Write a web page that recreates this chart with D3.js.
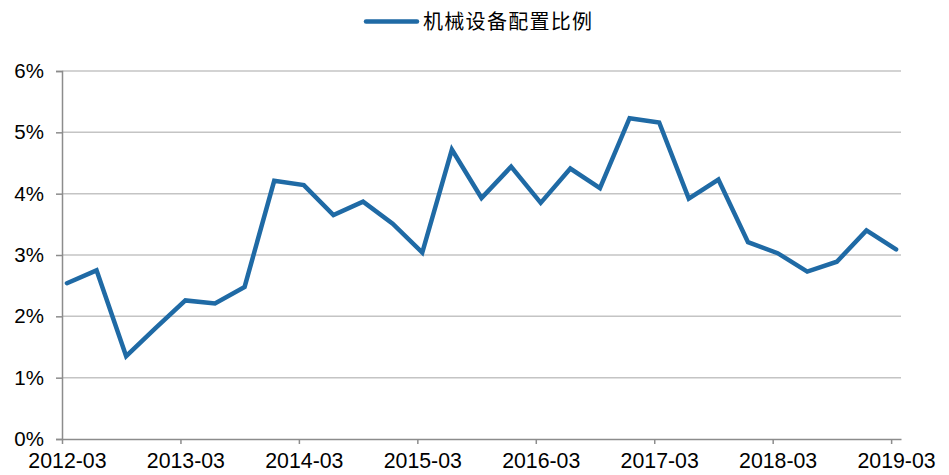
<!DOCTYPE html>
<html>
<head>
<meta charset="utf-8">
<script src="https://cdn.jsdelivr.net/npm/d3@7"></script>
<style>
  html, body { margin: 0; padding: 0; background: #fff; }
  svg { display: block; }
</style>
</head>
<body>
<svg id="chart" width="949" height="475"></svg>
<script>
// Quarterly dates and values
const seriesName = "机械设备配置比例";
const quarters = [
  "2012-03","2012-06","2012-09","2012-12",
  "2013-03","2013-06","2013-09","2013-12",
  "2014-03","2014-06","2014-09","2014-12",
  "2015-03","2015-06","2015-09","2015-12",
  "2016-03","2016-06","2016-09","2016-12",
  "2017-03","2017-06","2017-09","2017-12",
  "2018-03","2018-06","2018-09","2018-12",
  "2019-03"
];
const values = [
  2.54, 2.75, 1.35, 1.81,
  2.26, 2.21, 2.48, 4.21,
  4.14, 3.65, 3.87, 3.51,
  3.04, 4.72, 3.93, 4.44,
  3.85, 4.41, 4.09, 5.23,
  5.16, 3.92, 4.23, 3.21,
  3.03, 2.73, 2.89, 3.40,
  3.09
];
const xTickLabels = ["2012-03","2013-03","2014-03","2015-03","2016-03","2017-03","2018-03","2019-03"];
const yTicks = [0, 1, 2, 3, 4, 5, 6];

(function () {
const svg = d3.select("#chart");
const mLeft = 62, mRight = 901, mTop = 71, mBottom = 439;

function monthIndex(s) {
  const [yy, mm] = s.split("-").map(Number);
  return (yy - 2012) * 12 + (mm - 3);
}

const x = d3.scaleLinear().domain([0, 85]).range([mLeft, mRight]);
const y = d3.scaleLinear().domain([0, 6]).range([mBottom, mTop]);

// gridlines
svg.append("g")
  .selectAll("line")
  .data(yTicks.filter(d => d > 0))
  .join("line")
  .attr("x1", mLeft).attr("x2", mRight)
  .attr("y1", d => y(d)).attr("y2", d => y(d))
  .attr("stroke", "#c4c4c4")
  .attr("stroke-width", 1.5);

// y axis
const yAxis = d3.axisLeft(y).tickValues(yTicks).tickFormat(d => d + "%").tickSize(6).tickPadding(12);
const gy = svg.append("g").attr("transform", `translate(${mLeft},0)`).call(yAxis);
gy.select(".domain").attr("stroke", "#8c8c8c").attr("stroke-width", 1.5);
gy.selectAll(".tick line").attr("stroke", "#8c8c8c").attr("stroke-width", 1.5);
gy.selectAll(".tick text")
  .attr("font-family", "'Liberation Sans', Arial, sans-serif")
  .attr("font-size", 20.5)
  .attr("fill", "#000");

// x axis
const xAxis = d3.axisBottom(x)
  .tickValues(xTickLabels.map(monthIndex))
  .tickFormat((d, i) => xTickLabels[i])
  .tickSize(5).tickSizeOuter(0).tickPadding(9);
const gx = svg.append("g").attr("transform", `translate(0,${mBottom})`).call(xAxis);
gx.select(".domain").attr("stroke", "#8c8c8c").attr("stroke-width", 1.5);
gx.selectAll(".tick line").attr("stroke", "#8c8c8c").attr("stroke-width", 1.5);
gx.selectAll(".tick text")
  .attr("x", x(0.5) - x(0))
  .attr("font-family", "'Liberation Sans', Arial, sans-serif")
  .attr("font-size", 21.3)
  .attr("fill", "#000");

// line
const data = quarters.map((q, i) => ({ m: monthIndex(q) + 0.5, v: values[i] }));
const line = d3.line().x(d => x(d.m)).y(d => y(d.v));
svg.append("path")
  .datum(data)
  .attr("d", line)
  .attr("fill", "none")
  .attr("stroke", "#1f6aa5")
  .attr("stroke-width", 4.5)
  .attr("stroke-linejoin", "miter")
  .attr("stroke-linecap", "round");

// legend
const lg = svg.append("g");
lg.append("line")
  .attr("x1", 366).attr("x2", 417)
  .attr("y1", 21.5).attr("y2", 21.5)
  .attr("stroke", "#1f6aa5").attr("stroke-width", 4.5)
  .attr("stroke-linecap", "round");
lg.append("text")
  .attr("x", 423).attr("y", 29)
  .attr("font-family", "'Noto Sans CJK SC', sans-serif")
  .attr("font-size", 20)
  .attr("letter-spacing", 1.3)
  .attr("fill", "#000")
  .text(seriesName);
})();
</script>
</body>
</html>
